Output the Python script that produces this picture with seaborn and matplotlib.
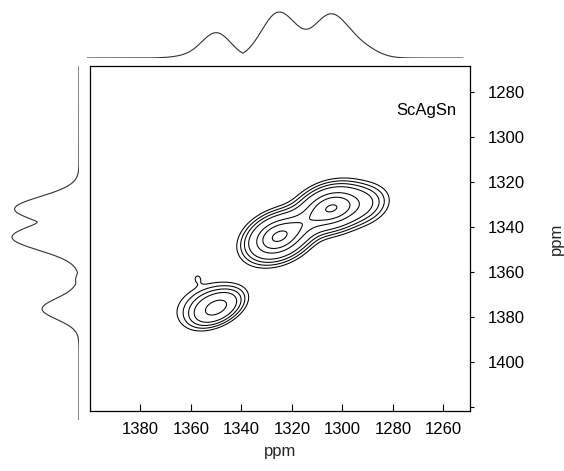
import numpy as np
import pandas as pd
import matplotlib
matplotlib.use("Agg")
import matplotlib.pyplot as plt
import seaborn as sns

# ---- data ----
# 2D peak components (F2 = horizontal ppm, F1 = vertical ppm)
peak_f2 = [1325.5, 1304.5, 1315.5, 1292.0, 1349.7, 1355.0, 1357.5]
peak_f1 = [1344.4, 1331.6, 1338.5, 1330.0, 1376.0, 1373.5, 1362.5]
peak_w2 = [6.6, 6.8, 5.0, 6.0, 5.6, 7.5, 1.8]
peak_w1 = [5.6, 5.4, 4.5, 5.0, 4.5, 6.0, 2.2]
peak_rho = [0.3, 0.25, 0.3, 0.2, 0.45, 0.4, 0.0]
peak_amp = [1.0, 0.95, 0.22, 0.2, 0.5, 0.11, 0.04]
contour_levels = [0.046, 0.08, 0.13, 0.21, 0.44, 0.66, 0.95]
x_ticks = [1380, 1360, 1340, 1320, 1300, 1280, 1260]
y_ticks = [1280, 1300, 1320, 1340, 1360, 1380, 1400, 1420]
y_ticklabels = ["1280", "1300", "1320", "1340", "1360", "1380", "1400", ""]
sample_label = "ScAgSn"
axis_label = "ppm"

# ---- build 2D spectrum on a grid ----
f2 = np.linspace(1401.2, 1252.3, 800)
f1 = np.linspace(1268.4, 1425.0, 800)
X, Y = np.meshgrid(f2, f1)
Z = np.zeros_like(X)
for x0, y0, sx, sy, r, a in zip(peak_f2, peak_f1, peak_w2, peak_w1, peak_rho, peak_amp):
    dx = (X - x0) / sx
    dy = (Y - y0) / sy
    q = (dx**2 - 2 * r * dx * dy + dy**2) / (1 - r**2)
    Z += a * np.exp(-0.5 * q)

# skyline projections of the 2D map
proj_top = pd.DataFrame({"ppm": f2, "intensity": Z.max(axis=0)})
proj_left = pd.DataFrame({"ppm": f1, "intensity": Z.max(axis=1)})

# ---- figure ----
sns.set_theme(style="white")
plt.rcParams["font.family"] = ["Liberation Sans", "DejaVu Sans"]
W, H = 564, 471
fig = plt.figure(figsize=(W / 100, H / 100), dpi=100)

def px_axes(l, t, r, b):
    return fig.add_axes([l / W, 1 - b / H, (r - l) / W, (b - t) / H])

ax = px_axes(90, 66, 470, 411)
ax_top = px_axes(87, 8, 470, 58)
ax_left = px_axes(8, 66, 79, 420)

ax.contour(X, Y, Z, levels=contour_levels, colors="black", linewidths=0.75)
ax.set_xlim(1400, 1249.5)
ax.set_ylim(1421.8, 1268.4)
ax.set_xticks(x_ticks)
ax.set_xticklabels([str(v) for v in x_ticks])
ax.set_yticks(y_ticks)
ax.set_yticklabels(y_ticklabels)
ax.yaxis.tick_right()
ax.yaxis.set_label_position("right")
ax.tick_params(axis="x", direction="in", length=5, width=0.8, pad=8,
               labelsize=12, colors="black", bottom=True, top=False)
ax.tick_params(axis="y", direction="out", length=3, width=0.8, pad=10,
               labelsize=12, colors="black", right=True, left=False)
ax.set_xlabel(axis_label, fontsize=12, labelpad=5)
ax.set_ylabel(axis_label, fontsize=12, labelpad=17)
for s in ax.spines.values():
    s.set_visible(True)
    s.set_color("black")
    s.set_linewidth(0.9)
ax.text(0.885, 0.872, sample_label, transform=ax.transAxes, ha="center",
        va="center", fontsize=12, color="black")

sns.lineplot(data=proj_top, x="ppm", y="intensity", ax=ax_top, color="#333333",
             linewidth=0.8, sort=False)
ax_top.set_xlim(1401.2, 1249.5)
ax_top.set_ylim(0, proj_top["intensity"].max() * 1.087)
ax_top.axis("off")

sns.lineplot(data=proj_left, x="intensity", y="ppm", ax=ax_left, color="#333333",
             linewidth=0.8, sort=False, orient="y")
ax_left.set_ylim(1425.0, 1268.4)
ax_left.set_xlim(proj_left["intensity"].max() * 1.06, 0)
ax_left.axis("off")

fig.savefig("out.png", dpi=100)
